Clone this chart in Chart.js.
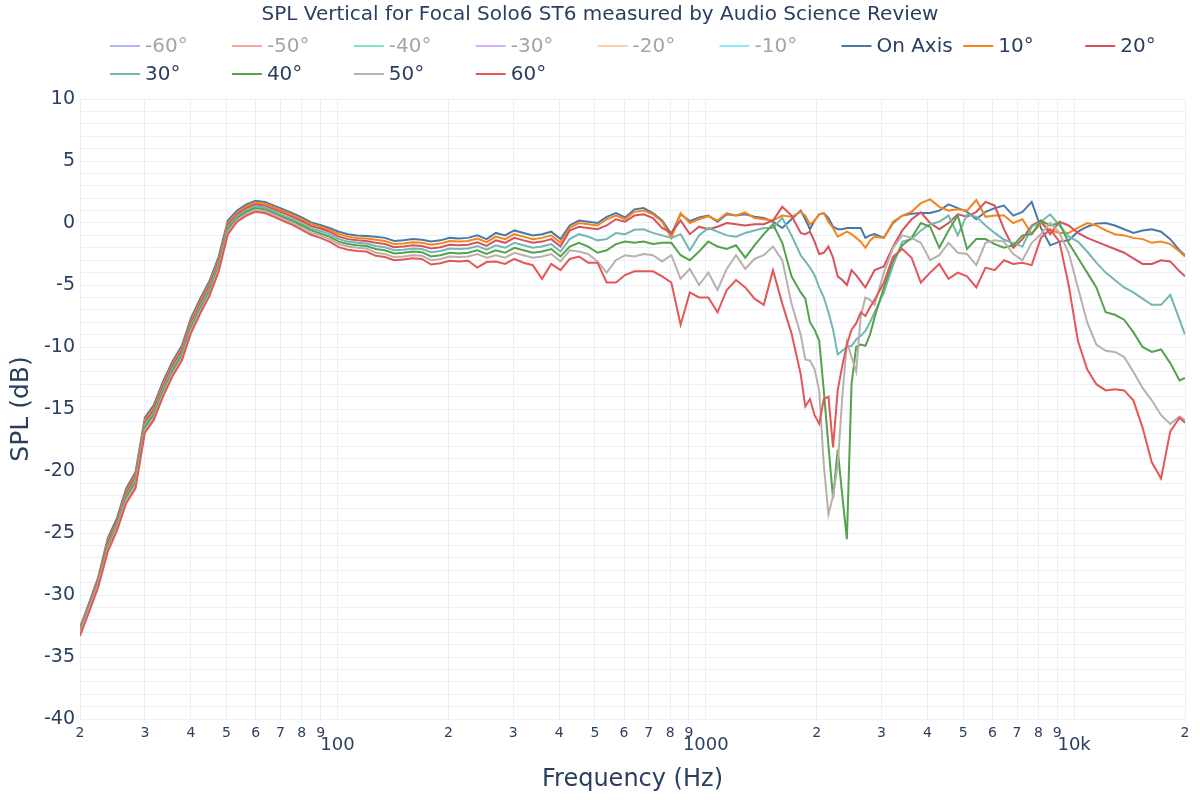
<!DOCTYPE html>
<html>
<head>
<meta charset="utf-8">
<title>SPL Vertical</title>
<script src="https://cdn.jsdelivr.net/npm/chart.js@4.4.1/dist/chart.umd.min.js"></script>
<style>
  body { margin: 0; background: #fff; }
  #wrap { width: 1200px; height: 800px; }
</style>
</head>
<body>
<div id="wrap"><canvas id="spl" width="1200" height="800"></canvas></div>
<script>
const titleText = 'SPL Vertical for Focal Solo6 ST6 measured by Audio Science Review'

// frequencies (Hz), roughly 1/12 octave, finer around the 2 kHz notch
const freqs = [
  20, 21.2, 22.4, 23.8, 25.2, 26.7, 28.3, 30, 31.7, 33.6, 35.6, 37.8, 40, 42.4, 44.9, 47.6, 50.4, 53.4, 56.6, 59.9, 63.5, 67.3, 71.3, 75.5, 80, 84.8, 89.8, 95.1,
  100.8, 106.8, 113.1, 119.9, 127, 134.5, 142.5, 151, 160, 169.5, 179.6, 190.3, 201.6, 213.6, 226.3, 239.7, 254, 269.1, 285.1, 302.1, 320, 339.1, 359.2, 380.6, 403.2,
  427.2, 452.5, 479.5, 508, 538.2, 570.2, 604.1, 640, 678.1, 718.4, 761.1, 806.3, 854.3, 905.1, 958.9, 1016, 1076, 1140, 1208, 1280, 1356, 1437, 1522, 1613, 1709,
  1810, 1863, 1918, 1974, 2032, 2091, 2153, 2216, 2281, 2348, 2416, 2487, 2560, 2635, 2712, 2792, 2873,
  3044, 3225, 3417, 3620, 3836, 4064, 4305, 4561, 4832, 5120, 5424, 5747, 6088, 6450, 6834, 7240, 7671, 8127, 8610, 9122, 9664, 10240, 10850, 11490, 12180, 12900, 13670, 14480, 15340, 16250, 17220, 18240, 19330, 20000
]

const onAxis = [
  -32.6, -30.6, -28.6, -25.4, -23.8, -21.4, -20.1, -15.7, -14.7, -12.8, -11.2, -9.9, -7.7, -6.1, -4.7, -2.7, 0.2, 1.0, 1.5, 1.8, 1.7, 1.4, 1.1, 0.8, 0.45, 0.05, -0.15, -0.4,
  -0.7, -0.9, -1.0, -1.05, -1.1, -1.2, -1.45, -1.4, -1.3, -1.35, -1.5, -1.4, -1.2, -1.25, -1.2, -1.0, -1.3, -0.8, -1.0, -0.6, -0.8, -1.0, -0.9, -0.7, -1.3,
  -0.2, 0.2, 0.1, 0.0, 0.5, 0.8, 0.45, 1.1, 1.2, 0.8, 0.2, -0.9, 0.7, 0.15, 0.45, 0.6, 0.1, 0.7, 0.6, 0.7, 0.5, 0.4, 0.1, -0.4, 0.3,
  1.0, 0.3, -0.5, 0.2, 0.7, 0.8, 0.4, -0.3, -0.5, -0.5, -0.4, -0.4, -0.4, -0.4, -1.2, -1.0, -0.9,
  -1.2, 0.0, 0.6, 0.75, 0.8, 0.8, 1.0, 1.5, 1.2, 0.9, 0.3, 0.9, 1.2, 1.4, 0.6, 0.9, 1.7, -0.4, -1.8, -1.5, -1.4, -0.7, -0.3, -0.05, 0.0, -0.2, -0.5, -0.8, -0.6, -0.5, -0.7, -1.3, -2.2, -2.6
]

const deg10 = [
  -32.7, -30.7, -28.7, -25.6, -24.0, -21.6, -20.3, -15.9, -14.9, -13.0, -11.4, -10.1, -7.9, -6.3, -4.9, -2.9, 0.0, 0.85, 1.35, 1.65, 1.55, 1.25, 0.95, 0.65, 0.3, -0.1, -0.3, -0.55,
  -0.9, -1.1, -1.2, -1.25, -1.35, -1.45, -1.7, -1.65, -1.55, -1.6, -1.75, -1.65, -1.45, -1.5, -1.45, -1.25, -1.55, -1.1, -1.3, -0.9, -1.1, -1.3, -1.2, -1.0, -1.6,
  -0.4, 0.0, -0.1, -0.2, 0.3, 0.6, 0.3, 0.9, 1.0, 0.7, 0.1, -1.2, 0.8, 0.0, 0.3, 0.55, 0.2, 0.8, 0.6, 0.85, 0.4, 0.3, 0.2, 0.6, 0.5,
  0.9, 0.6, -0.1, 0.2, 0.7, 0.8, 0.1, -0.4, -1.1, -0.9, -0.7, -0.9, -1.2, -1.5, -2.0, -1.4, -1.1,
  -1.2, 0.1, 0.6, 0.9, 1.6, 1.9, 1.3, 1.0, 1.1, 1.0, 1.85, 0.5, 0.6, 0.6, 0.0, 0.3, -0.9, 0.0, -0.6, -0.8, -0.8, -0.4, 0.0, -0.2, -0.6, -0.9, -1.0, -1.2, -1.3, -1.6, -1.5, -1.7, -2.3, -2.7
]

const deg20 = [
  -32.8, -30.8, -28.8, -25.8, -24.1, -21.8, -20.5, -16.1, -15.1, -13.2, -11.6, -10.3, -8.1, -6.5, -5.1, -3.1, -0.2, 0.7, 1.2, 1.5, 1.4, 1.1, 0.8, 0.5, 0.15, -0.25, -0.45, -0.7,
  -1.1, -1.3, -1.4, -1.45, -1.6, -1.7, -1.95, -1.9, -1.8, -1.85, -2.05, -1.95, -1.75, -1.8, -1.75, -1.55, -1.85, -1.4, -1.6, -1.2, -1.4, -1.6, -1.5, -1.3, -1.9,
  -0.6, -0.3, -0.4, -0.5, -0.2, 0.3, 0.1, 0.6, 0.7, 0.4, -0.4, -0.8, 0.2, -0.9, -0.3, -0.5, -0.3, 0.0, -0.1, -0.2, -0.1, -0.1, 0.2, 1.3, 0.6,
  -0.8, -0.9, -0.7, -1.5, -2.5, -2.4, -1.9, -2.8, -4.3, -4.6, -5.0, -3.8, -4.2, -4.7, -5.2, -4.5, -3.8,
  -3.5, -1.9, -0.6, 0.3, 0.85, 0.0, -0.5, 0.0, 0.7, 0.5, 0.9, 1.7, 1.4, -0.5, -2.0, -1.3, -0.2, 0.2, -0.9, 0.1, -0.2, -0.8, -1.2, -1.5, -1.8, -2.1, -2.4, -2.85, -3.3, -3.3, -3.0, -3.1, -3.9, -4.3
]

const deg30 = [
  -32.9, -30.9, -29.0, -26.0, -24.3, -22.0, -20.7, -16.3, -15.3, -13.4, -11.8, -10.5, -8.3, -6.7, -5.3, -3.3, -0.35, 0.55, 1.05, 1.35, 1.25, 0.95, 0.6, 0.3, -0.05, -0.45, -0.65, -0.9,
  -1.3, -1.5, -1.6, -1.65, -1.85, -1.95, -2.2, -2.15, -2.05, -2.1, -2.35, -2.25, -2.05, -2.1, -2.05, -1.85, -2.15, -1.8, -2.0, -1.6, -1.8, -2.0, -1.9, -1.7, -2.3,
  -1.3, -0.9, -1.1, -1.4, -1.3, -0.8, -0.9, -0.55, -0.5, -0.8, -1.0, -1.2, -0.9, -2.2, -1.0, -0.4, -0.7, -1.0, -1.1, -0.8, -0.6, -0.4, -0.4, 0.4, -1.0,
  -2.6, -3.1, -3.6, -4.2, -5.2, -6.0, -7.2, -8.6, -10.6, -10.3, -10.0, -9.9, -9.4, -9.1, -8.7, -8.0, -7.2,
  -5.6, -3.4, -1.5, -1.3, -0.6, -0.1, 0.1, 0.6, -1.0, 0.7, 0.5, -0.2, -0.8, -1.35, -1.6, -1.9, -0.3, 0.1, 0.7, -0.2, -1.1, -1.5, -2.3, -3.2, -4.0, -4.6, -5.2, -5.6, -6.1, -6.6, -6.6, -5.8, -7.8, -9.0
]

const deg40 = [
  -33.0, -31.0, -29.1, -26.1, -24.5, -22.2, -20.9, -16.5, -15.5, -13.6, -12.0, -10.7, -8.5, -6.9, -5.5, -3.5, -0.5, 0.4, 0.9, 1.2, 1.1, 0.8, 0.45, 0.15, -0.2, -0.6, -0.85, -1.1,
  -1.5, -1.7, -1.8, -1.85, -2.1, -2.2, -2.45, -2.4, -2.3, -2.35, -2.7, -2.6, -2.4, -2.45, -2.4, -2.2, -2.5, -2.2, -2.4, -2.0, -2.2, -2.4, -2.3, -2.1, -2.7,
  -1.9, -1.6, -1.9, -2.4, -2.2, -1.7, -1.5, -1.6, -1.5, -1.7, -1.6, -1.6, -2.6, -3.0, -2.3, -1.5, -1.9, -2.1, -1.8, -2.8, -1.8, -0.9, -0.1, -1.6, -4.3,
  -5.6, -6.1, -8.0, -8.6, -9.5, -13.5, -18.0, -22.2, -18.3, -22.0, -25.5, -13.0, -10.0, -9.8, -9.9, -9.0, -7.6,
  -5.2, -3.0, -1.8, -1.2, 0.0, -0.3, -2.0, -0.6, 0.6, -2.1, -1.3, -1.3, -1.7, -2.0, -1.8, -1.0, -0.9, 0.2, -0.2, 0.0, -1.6, -2.8, -4.0, -5.2, -7.2, -7.4, -7.8, -8.8, -10.0, -10.4, -10.2, -11.3, -12.7, -12.5
]

const deg50 = [
  -33.1, -31.1, -29.2, -26.3, -24.6, -22.4, -21.1, -16.7, -15.7, -13.8, -12.2, -10.9, -8.7, -7.1, -5.7, -3.7, -0.7, 0.25, 0.75, 1.05, 0.95, 0.65, 0.3, 0.0, -0.4, -0.8, -1.0, -1.3,
  -1.7, -1.9, -2.0, -2.05, -2.4, -2.5, -2.75, -2.7, -2.6, -2.65, -3.0, -2.9, -2.7, -2.75, -2.7, -2.5, -2.8, -2.6, -2.8, -2.4, -2.6, -2.8, -2.7, -2.5, -3.1,
  -2.2, -2.3, -2.5, -3.1, -4.0, -3.0, -2.6, -2.7, -2.5, -2.6, -3.1, -2.6, -4.5, -3.7, -5.0, -4.0, -5.4, -3.7, -2.6, -3.7, -2.9, -2.6, -1.9, -3.0, -6.5,
  -9.0, -11.0, -11.1, -11.8, -13.5, -19.5, -23.5, -22.0, -19.5, -14.0, -9.6, -10.8, -12.0, -7.5, -6.0, -6.2, -6.6,
  -4.0, -2.0, -1.0, -1.2, -1.6, -3.0, -2.6, -1.6, -2.4, -2.5, -3.4, -1.6, -1.4, -1.5, -2.5, -3.0, -1.6, -0.9, 0.0, -0.8, -2.4, -5.2, -8.0, -9.8, -10.3, -10.4, -10.8, -12.0, -13.3, -14.3, -15.5, -16.2, -15.6, -15.9
]

const deg60 = [
  -33.3, -31.3, -29.4, -26.5, -24.8, -22.6, -21.4, -16.9, -15.9, -14.0, -12.4, -11.1, -8.9, -7.3, -5.9, -3.9, -0.9, 0.1, 0.6, 0.9, 0.8, 0.5, 0.15, -0.15, -0.55, -0.95, -1.2, -1.5,
  -1.95, -2.15, -2.25, -2.3, -2.65, -2.75, -3.0, -2.95, -2.85, -2.9, -3.35, -3.25, -3.05, -3.1, -3.05, -3.6, -3.15, -3.1, -3.3, -2.9, -3.2, -3.4, -4.5, -3.3, -3.8,
  -2.9, -2.7, -3.2, -3.2, -4.8, -4.8, -4.2, -3.9, -3.9, -3.9, -4.3, -4.8, -8.2, -5.6, -6.0, -6.0, -7.2, -5.4, -4.6, -5.2, -6.1, -6.6, -3.8, -6.5, -8.9,
  -12.2, -14.8, -14.2, -15.5, -16.2, -14.2, -14.0, -18.1, -13.5, -11.5, -9.8, -8.6, -8.1, -7.2, -7.5, -6.8, -6.2,
  -4.8, -2.7, -2.1, -2.8, -4.8, -4.0, -3.3, -4.5, -4.0, -4.3, -5.2, -3.6, -3.8, -3.0, -3.3, -3.2, -3.4, -1.2, -0.5, -1.5, -5.0, -9.5, -11.8, -13.0, -13.5, -13.4, -13.5, -14.3, -16.5, -19.3, -20.6, -16.8, -15.7, -16.1
]

const seriesNames = ['On Axis', '10°', '20°', '30°', '40°', '50°', '60°']
const seriesValues = [onAxis, deg10, deg20, deg30, deg40, deg50, deg60]
const seriesColors = ['#4c78a8', '#f58518', '#d8525b', '#72b7b2', '#54a24b', '#bab0ac', '#e45756']

// legend: the negative angles are switched off in the original
const legendNames = ['-60°', '-50°', '-40°', '-30°', '-20°', '-10°', 'On Axis', '10°', '20°', '30°', '40°', '50°', '60°']
const legendColors = ['#636efa', '#ef553b', '#00cc96', '#ab63fa', '#ffa15a', '#19d3f3', '#4c78a8', '#f58518', '#d8525b', '#72b7b2', '#54a24b', '#bab0ac', '#e45756']
const legendHidden = [true, true, true, true, true, true, false, false, false, false, false, false, false]

const xTickValues = [20, 30, 40, 50, 60, 70, 80, 90, 100, 200, 300, 400, 500, 600, 700, 800, 900, 1000, 2000, 3000, 4000, 5000, 6000, 7000, 8000, 9000, 10000, 20000]
const xTickLabels = ['2', '3', '4', '5', '6', '7', '8', '9', '100', '2', '3', '4', '5', '6', '7', '8', '9', '1000', '2', '3', '4', '5', '6', '7', '8', '9', '10k', '2']
const xMajor = ['100', '1000', '10k']

const ink = '#2a3f5f'
const gridColor = '#ebf0f8'
Chart.defaults.font.family = '"DejaVu Sans", Verdana, sans-serif'
Chart.defaults.color = ink

const header = {
  id: 'header',
  afterDraw(chart) {
    const c = chart.ctx
    c.save()
    c.textBaseline = 'middle'
    c.textAlign = 'center'
    c.fillStyle = ink
    c.font = '20px "DejaVu Sans"'
    c.fillText(titleText, 600, 15)

    c.textAlign = 'left'
    c.font = '20px "DejaVu Sans"'
    legendNames.forEach((name, i) => {
      const x = 110 + (i % 9) * 121.9
      const y = i < 9 ? 46 : 74
      c.globalAlpha = legendHidden[i] ? 0.5 : 1
      c.strokeStyle = legendColors[i]
      c.lineWidth = 2
      c.beginPath()
      c.moveTo(x, y)
      c.lineTo(x + 30, y)
      c.stroke()
      c.globalAlpha = 1
      c.fillStyle = legendHidden[i] ? '#a2a6ab' : ink
      c.fillText(name, x + 35, y + 1)
    })
    c.restore()
  }
}

const ctx = document.querySelector('#spl')

new Chart(ctx, {
  type: 'line',
  data: {
    datasets: seriesNames.map((name, i) => ({
      label: name,
      data: freqs.map((f, j) => ({ x: f, y: seriesValues[i][j] })),
      borderColor: seriesColors[i],
      backgroundColor: seriesColors[i],
      borderWidth: 2,
      pointRadius: 0,
      tension: 0,
      fill: false,
      order: 10 - i
    }))
  },
  options: {
    responsive: false,
    animation: false,
    devicePixelRatio: 1,
    events: [],
    layout: {
      padding: { top: 99, right: 15, left: 0, bottom: 0 }
    },
    scales: {
      x: {
        type: 'logarithmic',
        min: 20,
        max: 20000,
        afterBuildTicks: scale => {
          scale.ticks = xTickValues.map(v => ({ value: v }))
        },
        afterFit: scale => {
          scale.height = 81
        },
        border: { display: false },
        grid: { color: gridColor, drawTicks: false },
        ticks: {
          autoSkip: false,
          maxRotation: 0,
          minRotation: 0,
          padding: 6,
          color: ink,
          font: c => (c.tick && xMajor.includes(xTickLabels[c.index]))
            ? { size: 18, lineHeight: 0.75 }
            : { size: 14 },
          callback: (value, index) => {
            const lbl = xTickLabels[index]
            return xMajor.includes(lbl) ? ['', lbl] : lbl
          }
        },
        title: {
          display: true,
          text: 'Frequency (Hz)',
          color: ink,
          font: { size: 24 },
          padding: { top: 0, bottom: 6 }
        }
      },
      y: {
        min: -40,
        max: 10,
        afterFit: scale => {
          scale.width = 80
        },
        border: { display: false },
        grid: { color: gridColor, drawTicks: false },
        ticks: {
          stepSize: 1,
          autoSkip: false,
          padding: 5,
          color: ink,
          font: { size: 19 },
          callback: v => (v % 5 === 0 ? String(v) : '')
        },
        title: {
          display: true,
          text: 'SPL (dB)',
          color: ink,
          font: { size: 25 },
          padding: { top: 6, bottom: 0 }
        }
      }
    },
    plugins: {
      legend: false,
      title: false,
      tooltip: false
    }
  },
  plugins: [header]
})
</script>
</body>
</html>
